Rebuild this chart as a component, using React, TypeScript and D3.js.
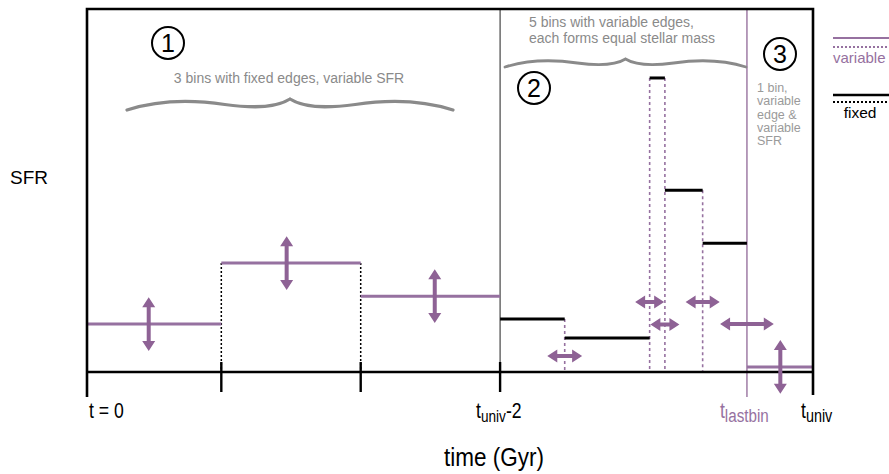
import React from "react";
import * as d3 from "d3";

const W = 889;
const H = 474;

// schematic time units (0 = t=0, 100 = t_univ) and SFR units (0..100)
const fixedEdges = [0, 18.5, 37.7, 56.9];
const fixedSFR = [13.2, 30.0, 20.9];
const varEdges = [56.9, 65.8, 77.5, 79.6, 84.8, 90.9];
const varSFR = [14.6, 9.4, 81.0, 50.1, 35.5];
const lastEdges = [90.9, 100];
const lastSFR = [1.4];
const sfrArrowX = [8.5, 27.5, 47.9];
const lastArrowX = 95.5;
const sfrArrowHalf = 7.4;
const edgeArrowY = [4.4, 19.3, 13.1, 19.3, 13.2];
const edgeArrowHalf = [2.4, 2.0, 2.0, 2.35, 3.7];
const axisTicks = [0, 18.5, 37.7, 56.9, 100];
const region3Lines = ["1 bin,", "variable", "edge &", "variable", "SFR"];

const PURPLE = "#8e6295";
const PURPLE_LINE = "#9671a0";
const PURPLE_LIGHT = "#a584ab";
const GRAY = "#8a8a8a";
const FONT = "'Liberation Sans', Arial, Helvetica, sans-serif";

const x = d3.scaleLinear().domain([0, 100]).range([87, 813]);
const y = d3.scaleLinear().domain([0, 100]).range([372, 9]);

function arrowPath(x1: number, y1: number, x2: number, y2: number) {
  const L = Math.hypot(x2 - x1, y2 - y1);
  const ux = (x2 - x1) / L, uy = (y2 - y1) / L;
  const nx = -uy, ny = ux;
  const hl = 10, hw = 6.5, sw = 2;
  const local: [number, number][] = [
    [0, 0], [hl, -hw], [hl, -sw], [L - hl, -sw], [L - hl, -hw],
    [L, 0], [L - hl, hw], [L - hl, sw], [hl, sw], [hl, hw],
  ];
  const pts = local.map(([a, b]) => [x1 + ux * a + nx * b, y1 + uy * a + ny * b]);
  return "M" + pts.map((p) => p[0].toFixed(2) + "," + p[1].toFixed(2)).join("L") + "Z";
}

function bracePath(x0: number, x1: number, yE: number, yT: number) {
  const w = x1 - x0;
  const h = yE - yT;
  const cx = (x0 + x1) / 2;
  const P = (u: number, v: number) => `${(x0 + u * w).toFixed(2)},${(yT + v * h).toFixed(2)}`;
  return (
    `M${P(0, 1)} C${P(0.1, 0.05)} ${P(0.2, 0.05)} ${P(0.3, 0.5)} ` +
    `C${P(0.4, 0.9)} ${P(0.46, 0.75)} ${cx.toFixed(2)},${yT} ` +
    `C${P(0.54, 0.75)} ${P(0.6, 0.9)} ${P(0.7, 0.5)} ` +
    `C${P(0.8, 0.05)} ${P(0.9, 0.05)} ${P(1, 1)}`
  );
}

function CircledNum({ cx, cy, n }: { cx: number; cy: number; n: string }) {
  return (
    <g>
      <circle cx={cx} cy={cy} r={16} fill="none" stroke="#000" strokeWidth={2} />
      <text x={cx} y={cy + 9} textAnchor="middle" fontSize={25} fontFamily={FONT} fill="#000">
        {n}
      </text>
    </g>
  );
}

function Narrow({ x0, y0, children, fill = "#000", size = 22 }: any) {
  return (
    <g transform={`translate(${x0},${y0}) scale(0.8,1)`}>
      <text x={0} y={0} fontSize={size} fontFamily={FONT} fill={fill}>{children}</text>
    </g>
  );
}

export default function App() {
  const axisY = y(0);
  const fixedBins = fixedSFR.map((s, i) => ({ x0: fixedEdges[i], x1: fixedEdges[i + 1], s }));
  const varBins = varSFR.map((s, i) => ({ x0: varEdges[i], x1: varEdges[i + 1], s }));
  const lastBins = lastSFR.map((s, i) => ({ x0: lastEdges[i], x1: lastEdges[i + 1], s }));

  const fixedInner = fixedEdges.slice(1, -1).map((e, i) => ({ e, top: Math.max(fixedSFR[i], fixedSFR[i + 1]) }));
  const varInner = varEdges.slice(1, -1).map((e, i) => ({ e, top: Math.max(varSFR[i], varSFR[i + 1]) }));
  const movableEdges = varEdges.slice(1);

  return (
    <svg width={W} height={H} style={{ position: "absolute", left: 0, top: 0, background: "#fff" }}>
      <rect x={0} y={0} width={W} height={H} fill="#fff" />

      {/* dotted edges */}
      {fixedInner.map((d, i) => (
        <line key={"fd" + i} x1={x(d.e)} x2={x(d.e)} y1={y(d.top)} y2={axisY}
          stroke="#000" strokeWidth={1.5} strokeDasharray="2,2" />
      ))}
      {varInner.map((d, i) => (
        <line key={"vd" + i} x1={x(d.e)} x2={x(d.e)} y1={y(d.top)} y2={axisY}
          stroke={PURPLE_LINE} strokeWidth={1.6} strokeDasharray="3,3" />
      ))}

      {/* t_univ-2 boundary */}
      <line x1={x(56.9)} x2={x(56.9)} y1={y(100)} y2={axisY} stroke="#444" strokeWidth={1.2} />
      {/* t_lastbin boundary */}
      <line x1={x(lastEdges[0])} x2={x(lastEdges[0])} y1={y(100)} y2={axisY + 25} stroke={PURPLE_LIGHT} strokeWidth={1.6} />

      {/* bins */}
      {fixedBins.map((b, i) => (
        <line key={"fb" + i} x1={x(b.x0)} x2={x(b.x1)} y1={y(b.s)} y2={y(b.s)} stroke={PURPLE_LINE} strokeWidth={3} />
      ))}
      {varBins.map((b, i) => (
        <line key={"vb" + i} x1={x(b.x0)} x2={x(b.x1)} y1={y(b.s)} y2={y(b.s)} stroke="#000" strokeWidth={3} />
      ))}
      {lastBins.map((b, i) => (
        <line key={"lb" + i} x1={x(b.x0)} x2={x(b.x1)} y1={y(b.s)} y2={y(b.s)} stroke={PURPLE_LINE} strokeWidth={3} />
      ))}

      {/* frame */}
      <path d={`M${x(0)},${axisY + 25} L${x(0)},${y(100)} L${x(100)},${y(100)} L${x(100)},${axisY + 23}`}
        fill="none" stroke="#000" strokeWidth={2.6} />
      <line x1={x(0)} x2={x(100)} y1={axisY} y2={axisY} stroke="#000" strokeWidth={2.6} />
      {axisTicks.slice(1, -1).map((t, i) => (
        <line key={"tk" + i} x1={x(t)} x2={x(t)} y1={axisY - 10} y2={axisY + 20} stroke="#000" strokeWidth={2.4} />
      ))}

      {/* SFR arrows */}
      {sfrArrowX.map((ax, i) => (
        <path key={"sa" + i} d={arrowPath(x(ax), y(fixedSFR[i] + sfrArrowHalf), x(ax), y(fixedSFR[i] - sfrArrowHalf))} fill={PURPLE} />
      ))}
      <path d={arrowPath(x(lastArrowX), y(lastSFR[0] + sfrArrowHalf), x(lastArrowX), y(lastSFR[0] - sfrArrowHalf))} fill={PURPLE} />
      {/* edge arrows */}
      {movableEdges.map((e, i) => (
        <path key={"ea" + i} d={arrowPath(x(e - edgeArrowHalf[i]), y(edgeArrowY[i]), x(e + edgeArrowHalf[i]), y(edgeArrowY[i]))} fill={PURPLE} />
      ))}

      {/* annotations */}
      <CircledNum cx={168} cy={43} n="1" />
      <CircledNum cx={534} cy={88} n="2" />
      <CircledNum cx={780} cy={54} n="3" />

      <text x={289} y={83} textAnchor="middle" fontSize={14} fontFamily={FONT} fill={GRAY}>
        3 bins with fixed edges, variable SFR
      </text>
      <path d={bracePath(127, 453, 110, 99)} fill="none" stroke={GRAY} strokeWidth={3.2} strokeLinecap="round" />

      <text x={529} y={27} fontSize={14} fontFamily={FONT} fill={GRAY}>5 bins with variable edges,</text>
      <text x={529} y={43} fontSize={14} fontFamily={FONT} fill={GRAY}>each forms equal stellar mass</text>
      <path d={bracePath(505, 746, 67, 59)} fill="none" stroke={GRAY} strokeWidth={2.8} strokeLinecap="round" />

      {region3Lines.map((s, i) => (
        <text key={"r3" + i} x={757} y={92 + i * 13.3} fontSize={12.5} fontFamily={FONT} fill="#9a9a9a">{s}</text>
      ))}

      {/* legend */}
      <line x1={833} x2={889} y1={38} y2={38} stroke={PURPLE_LINE} strokeWidth={2.2} />
      <line x1={833} x2={889} y1={47} y2={47} stroke={PURPLE_LINE} strokeWidth={1.8} strokeDasharray="2,2" />
      <text x={833} y={63} fontSize={15} fontFamily={FONT} fill={PURPLE_LINE}>variable</text>
      <line x1={833} x2={889} y1={95} y2={95} stroke="#000" strokeWidth={2.4} />
      <line x1={833} x2={889} y1={102} y2={102} stroke="#000" strokeWidth={1.8} strokeDasharray="2,2" />
      <text x={860} y={118} textAnchor="middle" fontSize={15.5} fontFamily={FONT} fill="#000">fixed</text>

      {/* axis labels */}
      <text x={10} y={184} fontSize={19} fontFamily={FONT} fill="#000">SFR</text>
      <Narrow x0={x(0) + 2} y0={418}>t = 0</Narrow>
      <Narrow x0={x(56.9) - 24} y0={418}>
        t<tspan fontSize={17} dy={4}>univ</tspan><tspan dy={-4}>-2</tspan>
      </Narrow>
      <Narrow x0={x(lastEdges[0]) - 27} y0={418} fill={PURPLE_LINE}>
        t<tspan fontSize={19} dy={4}>lastbin</tspan>
      </Narrow>
      <Narrow x0={x(100) - 12} y0={418}>
        t<tspan fontSize={18} dy={4}>univ</tspan>
      </Narrow>
      <g transform="translate(494,466) scale(0.9,1)">
        <text x={0} y={0} textAnchor="middle" fontSize={25} fontFamily={FONT} fill="#000">time (Gyr)</text>
      </g>
    </svg>
  );
}
